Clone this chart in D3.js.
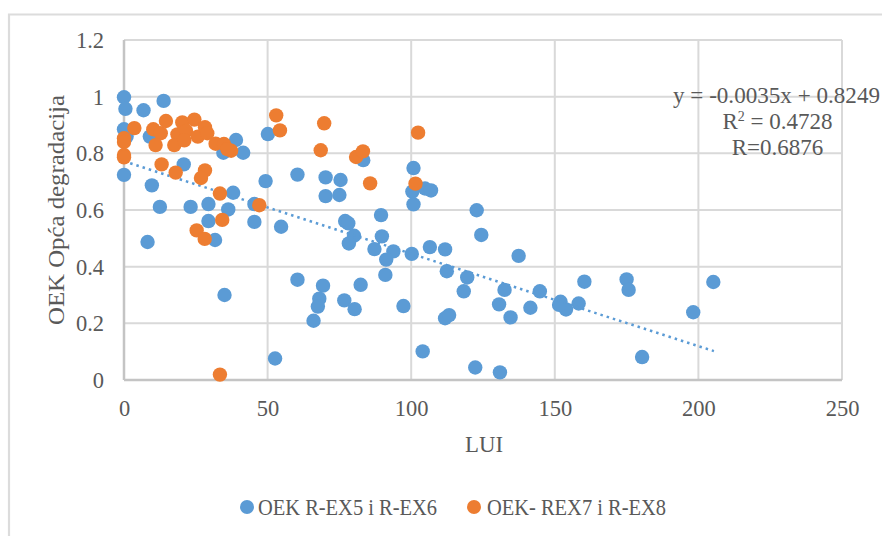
<!DOCTYPE html>
<html><head><meta charset="utf-8">
<script src="https://cdn.jsdelivr.net/npm/d3@7"></script>
<style>html,body{margin:0;padding:0;background:#fff}svg{display:block}text{font-family:"Liberation Serif",serif;fill:#595959}</style>
</head><body><svg id="c" width="882" height="536"></svg>
<script>
const xTicks=[0,50,100,150,200,250];
const yTicks=[0,0.2,0.4,0.6,0.8,1,1.2];
const blueX=[0,0.5,0,0.9,0,6.8,13.8,9,9.7,12.5,20.8,23.2,29.4,29.4,36.3,38,34.6,39,41.5,50.1,49.3,45.4,45.4,54.7,60.4,70.2,75.4,70.2,75,83.3,89.5,77,78.1,80.1,78.3,89.8,87.2,93.8,91.3,100.2,106.5,111.8,112.4,91,60.4,69.3,82.4,68,67.5,76.7,80.3,66,97.3,35,52.6,104,8.2,31.7,111.8,113.2,100.8,100.4,104.8,106.9,100.8,122.8,124.4,137.4,119.5,118.3,132.5,144.8,130.6,141.5,134.6,152,153.9,151.5,158.3,160.3,175,175.7,205.2,198.2,180.4,122.3,130.9];
const blueY=[0.998,0.957,0.885,0.859,0.724,0.952,0.985,0.859,0.687,0.611,0.761,0.611,0.621,0.561,0.602,0.661,0.802,0.847,0.802,0.868,0.702,0.621,0.558,0.541,0.725,0.715,0.706,0.649,0.653,0.776,0.582,0.561,0.553,0.509,0.482,0.507,0.462,0.454,0.425,0.445,0.469,0.461,0.384,0.371,0.354,0.333,0.336,0.287,0.259,0.281,0.25,0.209,0.261,0.3,0.076,0.101,0.487,0.494,0.218,0.229,0.748,0.665,0.676,0.669,0.62,0.599,0.512,0.438,0.362,0.313,0.318,0.313,0.267,0.255,0.221,0.276,0.249,0.265,0.27,0.347,0.355,0.318,0.346,0.239,0.081,0.044,0.027];
const orangeX=[3.6,0,0,0,0,10.2,12.8,11,14.6,20.3,24.5,18.6,21.6,17.5,21,25.7,28.2,29,31.9,34.8,37.3,36,13.1,18,28.2,26.8,33.4,47.1,53,54.3,69.7,68.5,80.8,83.2,85.7,102.4,101.5,34.2,25.3,28.1,33.4];
const orangeY=[0.889,0.853,0.84,0.794,0.786,0.885,0.871,0.829,0.914,0.909,0.919,0.867,0.879,0.829,0.846,0.859,0.892,0.871,0.834,0.833,0.809,0.815,0.761,0.732,0.74,0.713,0.658,0.617,0.934,0.881,0.906,0.811,0.787,0.807,0.694,0.873,0.693,0.565,0.528,0.498,0.019];
const trendX=[0,205.4];
const trendY=[0.772,0.102];
const xLabel="LUI", yLabel="OEK Opća degradacija";
const seriesNames=["OEK R-EX5 i R-EX6","OEK- REX7 i R-EX8"];
const colors=["#5B9BD5","#ED7D31"];

const svg=d3.select("#c");
const x=d3.scaleLinear().domain([0,250]).range([124,842]);
const y=d3.scaleLinear().domain([0,1.2]).range([380,40]);

// outer chart frame (only its top and left edges are inside the picture)
svg.append("path").attr("d","M9,536V14.5H882").attr("fill","none").attr("stroke","#dcdcdc").attr("stroke-width",2.2);

const grid=svg.append("g").attr("stroke","#d9d9d9").attr("stroke-width",2);
grid.selectAll(".v").data(xTicks).join("line").attr("x1",d=>x(d)).attr("x2",d=>x(d)).attr("y1",y(1.2)).attr("y2",y(0));
grid.selectAll(".h").data(yTicks).join("line").attr("y1",d=>y(d)).attr("y2",d=>y(d)).attr("x1",x(0)).attr("x2",x(250));
svg.append("line").attr("x1",x(0)).attr("x2",x(0)).attr("y1",y(1.2)).attr("y2",y(0)).attr("stroke","#c4c4c4").attr("stroke-width",2.5);
svg.append("line").attr("x1",x(0)).attr("x2",x(250)).attr("y1",y(0)).attr("y2",y(0)).attr("stroke","#c4c4c4").attr("stroke-width",2.5);

svg.append("g").selectAll("text").data(xTicks).join("text").attr("x",d=>x(d)+0.5).attr("y",416).attr("text-anchor","middle").attr("font-size",22.5).text(d=>d);
svg.append("g").selectAll("text").data(yTicks).join("text").attr("x",104).attr("y",d=>y(d)+8).attr("text-anchor","end").attr("font-size",22.5).text(d=>d);

svg.append("text").attr("x",484).attr("y",452).attr("text-anchor","middle").attr("font-size",24).attr("textLength",38).attr("lengthAdjust","spacingAndGlyphs").text(xLabel);
svg.append("text").attr("transform","translate(64,210) rotate(-90)").attr("text-anchor","middle").attr("font-size",23.5).attr("textLength",230).attr("lengthAdjust","spacingAndGlyphs").text(yLabel);

const pts=(xs,ys)=>xs.map((v,i)=>[v,ys[i]]);
svg.append("g").selectAll("circle").data(pts(blueX,blueY)).join("circle").attr("cx",d=>x(d[0])).attr("cy",d=>y(d[1])).attr("r",7.2).attr("fill",colors[0]);
svg.append("line").attr("x1",x(trendX[0])).attr("x2",x(trendX[1])).attr("y1",y(trendY[0])).attr("y2",y(trendY[1])).attr("stroke",colors[0]).attr("stroke-width",2.5).attr("stroke-dasharray","2.5 4");
svg.append("g").selectAll("circle").data(pts(orangeX,orangeY)).join("circle").attr("cx",d=>x(d[0])).attr("cy",d=>y(d[1])).attr("r",7.2).attr("fill",colors[1]);

const eq=svg.append("g").attr("text-anchor","middle").attr("font-size",23);
eq.append("text").attr("x",776.5).attr("y",103).attr("textLength",207).attr("lengthAdjust","spacingAndGlyphs").text("y = -0.0035x + 0.8249");
const r2=eq.append("text").attr("x",777.5).attr("y",129);r2.append("tspan").text("R");r2.append("tspan").attr("dy",-8).attr("font-size",14).text("2");r2.append("tspan").attr("dy",8).text(" = 0.4728");
eq.append("text").attr("x",777.5).attr("y",155).text("R=0.6876");

const leg=svg.append("g");
const lx=[247,474], tx=[258,487], tl=[179,179];
seriesNames.forEach((n,i)=>{
 leg.append("circle").attr("cx",lx[i]).attr("cy",507).attr("r",7).attr("fill",colors[i]);
 leg.append("text").attr("x",tx[i]).attr("y",515).attr("font-size",23).attr("textLength",tl[i]).attr("lengthAdjust","spacingAndGlyphs").text(n);
});
</script></body></html>
